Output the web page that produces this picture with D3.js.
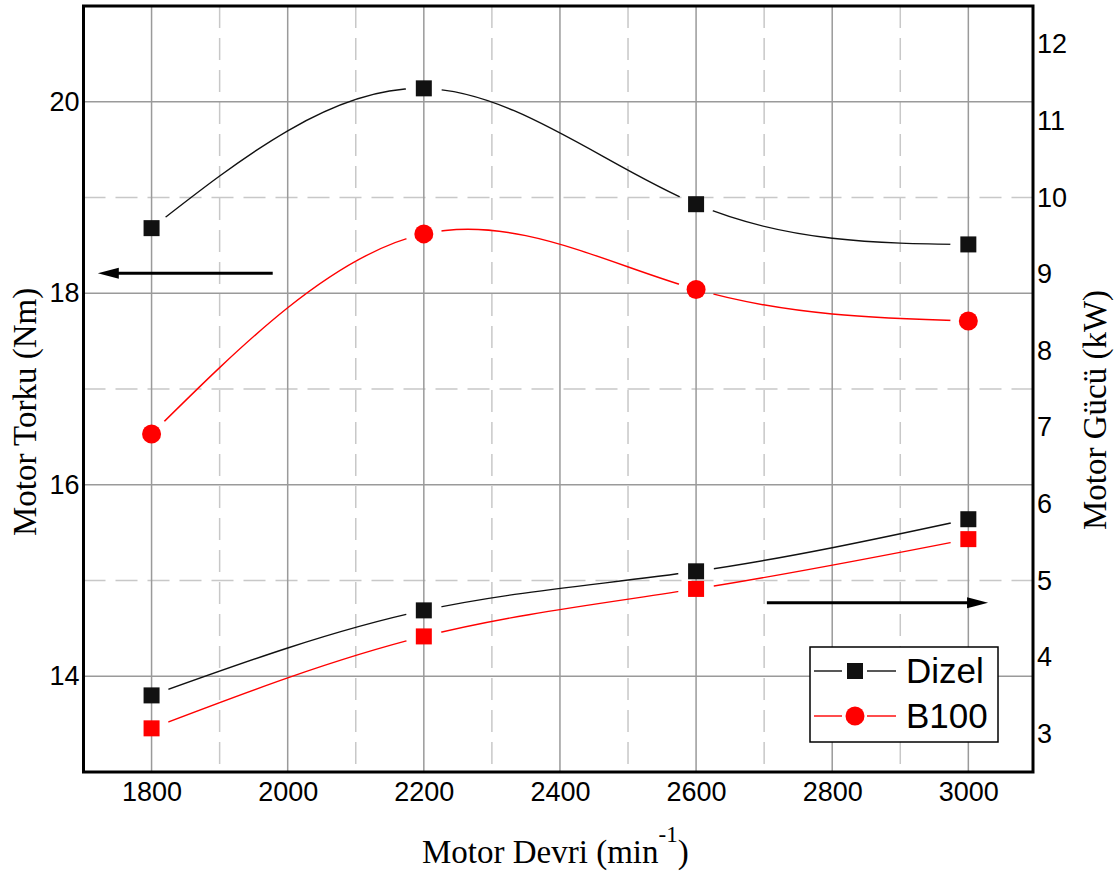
<!DOCTYPE html>
<html>
<head>
<meta charset="utf-8">
<script src="https://cdn.jsdelivr.net/npm/d3@7"></script>
<style>
    body { margin: 0; background: #fff; }
    .tick-lbl { font-family: "Liberation Sans", Arial, sans-serif; font-size: 27px; fill: #000; }
    .title { font-family: "Liberation Serif", "Times New Roman", serif; font-size: 33px; fill: #000; }
    .legend-text { font-family: "Liberation Sans", Arial, sans-serif; font-size: 35px; fill: #000; }
</style>
</head>
<body>
<svg id="chart" width="1116" height="872"></svg>
<script>
// ---- Data ----
const rpm = [1800, 2200, 2600, 3000];
const torqueDizel = [18.68, 20.14, 18.93, 18.51];
const torqueB100 = [16.53, 18.62, 18.04, 17.71];
const powerDizel = [3.50, 4.61, 5.12, 5.80];
const powerB100 = [3.07, 4.27, 4.89, 5.54];

const xTicks = [1800, 2000, 2200, 2400, 2600, 2800, 3000];
const xMinorTicks = [1900, 2100, 2300, 2500, 2700, 2900];
const torqueTicks = [14, 16, 18, 20];
const torqueMinorTicks = [15, 17, 19];
const powerTicks = [3, 4, 5, 6, 7, 8, 9, 10, 11, 12];

const seriesNames = ["Dizel", "B100"];
const seriesColors = ["#111111", "#ff0000"];

// arrows pointing to the axis each curve group belongs to
const arrowAxis = ["torque", "power"];
const arrowLevel = [18.21, 4.71];
const arrowFrom = [1978, 2704];
const arrowTo = [1721, 3029];

// ---- Layout ----
const plotLeft = 83.5, plotRight = 1033, plotTop = 6, plotBottom = 772;

const svg = d3.select("#chart");

const xScale = d3.scaleLinear().domain([1700, 3095]).range([plotLeft, plotRight]);
const yTorque = d3.scaleLinear().domain([13, 21]).range([plotBottom, plotTop]);
const yPower = d3.scaleLinear().domain([2.5, 12.5]).range([plotBottom, plotTop]);

// ---- Grid ----
const grid = svg.append("g");

grid.selectAll(".vminor").data(xMinorTicks).join("line")
    .attr("x1", d => xScale(d)).attr("x2", d => xScale(d))
    .attr("y1", plotTop).attr("y2", plotBottom)
    .attr("stroke", "#c8c8c8").attr("stroke-width", 1.5)
    .attr("stroke-dasharray", "22,10");

grid.selectAll(".hminor").data(torqueMinorTicks).join("line")
    .attr("x1", plotLeft).attr("x2", plotRight)
    .attr("y1", d => yTorque(d)).attr("y2", d => yTorque(d))
    .attr("stroke", "#c8c8c8").attr("stroke-width", 1.5)
    .attr("stroke-dasharray", "22,10");

grid.selectAll(".vmajor").data(xTicks).join("line")
    .attr("x1", d => xScale(d)).attr("x2", d => xScale(d))
    .attr("y1", plotTop).attr("y2", plotBottom)
    .attr("stroke", "#9a9a9a").attr("stroke-width", 1.5);

grid.selectAll(".hmajor").data(torqueTicks).join("line")
    .attr("x1", plotLeft).attr("x2", plotRight)
    .attr("y1", d => yTorque(d)).attr("y2", d => yTorque(d))
    .attr("stroke", "#9a9a9a").attr("stroke-width", 1.5);

// ---- Curves ----
const series = [
    { id: "tD", xs: rpm, ys: torqueDizel, scale: yTorque, color: seriesColors[0], shape: "square" },
    { id: "tB", xs: rpm, ys: torqueB100, scale: yTorque, color: seriesColors[1], shape: "circle" },
    { id: "pD", xs: rpm, ys: powerDizel, scale: yPower, color: seriesColors[0], shape: "square" },
    { id: "pB", xs: rpm, ys: powerB100, scale: yPower, color: seriesColors[1], shape: "square" }
];

const defs = svg.append("defs");

series.forEach(s => {
    const pts = s.xs.map((x, i) => [xScale(x), s.scale(s.ys[i])]);

    // gap around each marker, like the original plot
    const mask = defs.append("mask").attr("id", "m-" + s.id)
        .attr("maskUnits", "userSpaceOnUse")
        .attr("x", 0).attr("y", 0).attr("width", 1116).attr("height", 872);
    mask.append("rect").attr("width", 1116).attr("height", 872).attr("fill", "#fff");
    mask.selectAll("circle").data(pts).join("circle")
        .attr("cx", d => d[0]).attr("cy", d => d[1]).attr("r", 18).attr("fill", "#000");

    const line = d3.line().curve(d3.curveNatural);
    svg.append("path")
        .attr("d", line(pts))
        .attr("fill", "none")
        .attr("stroke", s.color)
        .attr("stroke-width", 1.4)
        .attr("mask", "url(#m-" + s.id + ")");

    if (s.shape === "square") {
        svg.append("g").selectAll("rect").data(pts).join("rect")
            .attr("x", d => d[0] - 8).attr("y", d => d[1] - 8)
            .attr("width", 16).attr("height", 16)
            .attr("fill", s.color);
    } else {
        svg.append("g").selectAll("circle").data(pts).join("circle")
            .attr("cx", d => d[0]).attr("cy", d => d[1]).attr("r", 9.5)
            .attr("fill", s.color);
    }
});

// ---- Arrows ----
arrowAxis.forEach((ax, i) => {
    const sc = ax === "torque" ? yTorque : yPower;
    const y = sc(arrowLevel[i]);
    const x0 = xScale(arrowFrom[i]);
    const x1 = xScale(arrowTo[i]);
    const dir = Math.sign(x1 - x0);
    svg.append("line")
        .attr("x1", x0).attr("x2", x1 - dir * 14)
        .attr("y1", y).attr("y2", y)
        .attr("stroke", "#000").attr("stroke-width", 3);
    svg.append("path")
        .attr("d", `M${x1},${y} L${x1 - dir * 21},${y - 5.5} L${x1 - dir * 21},${y + 5.5} Z`)
        .attr("fill", "#000");
});

// ---- Frame ----
svg.append("rect")
    .attr("x", plotLeft).attr("y", plotTop)
    .attr("width", plotRight - plotLeft).attr("height", plotBottom - plotTop)
    .attr("fill", "none").attr("stroke", "#000").attr("stroke-width", 3);

// ---- Axes (labels only) ----
const xAxis = svg.append("g")
    .attr("transform", `translate(0,${plotBottom})`)
    .call(d3.axisBottom(xScale).tickValues(xTicks).tickSize(0).tickPadding(10).tickFormat(d3.format("d")));
xAxis.select(".domain").remove();

const yAxisL = svg.append("g")
    .attr("transform", `translate(${plotLeft},0)`)
    .call(d3.axisLeft(yTorque).tickValues(torqueTicks).tickSize(0).tickPadding(4));
yAxisL.select(".domain").remove();

const yAxisR = svg.append("g")
    .attr("transform", `translate(${plotRight},0)`)
    .call(d3.axisRight(yPower).tickValues(powerTicks).tickSize(0).tickPadding(4));
yAxisR.select(".domain").remove();

svg.selectAll(".tick text").attr("class", "tick-lbl");
svg.selectAll(".tick line").remove();
[xAxis, yAxisL, yAxisR].forEach(a => a.attr("font-size", null).attr("font-family", null));

// ---- Titles ----
const xTitle = svg.append("text").attr("class", "title")
    .attr("x", 422).attr("y", 863);
xTitle.append("tspan").text("Motor Devri (min");
xTitle.append("tspan").attr("dy", -21).attr("font-size", 23).text("-1");
xTitle.append("tspan").attr("dy", 21).text(")");

svg.append("text").attr("class", "title")
    .attr("transform", "translate(36,412) rotate(-90)")
    .attr("text-anchor", "middle")
    .text("Motor Torku (Nm)");

svg.append("text").attr("class", "title")
    .attr("transform", "translate(1106,410) rotate(-90)")
    .attr("text-anchor", "middle")
    .text("Motor Gücü (kW)");

// ---- Legend ----
const legend = svg.append("g");
legend.append("rect")
    .attr("x", 810).attr("y", 647).attr("width", 188).attr("height", 95)
    .attr("fill", "#fff").attr("stroke", "#000").attr("stroke-width", 1.5);

seriesNames.forEach((name, i) => {
    const cy = 671 + i * 45;
    const col = seriesColors[i];
    legend.append("line").attr("x1", 814).attr("x2", 842).attr("y1", cy).attr("y2", cy)
        .attr("stroke", col).attr("stroke-width", 1.4);
    legend.append("line").attr("x1", 867).attr("x2", 896).attr("y1", cy).attr("y2", cy)
        .attr("stroke", col).attr("stroke-width", 1.4);
    if (i === 0) {
        legend.append("rect").attr("x", 847).attr("y", cy - 8).attr("width", 16).attr("height", 16)
            .attr("fill", col);
    } else {
        legend.append("circle").attr("cx", 855).attr("cy", cy).attr("r", 9.5).attr("fill", col);
    }
    legend.append("text").attr("class", "legend-text")
        .attr("x", 906).attr("y", cy + 12)
        .text(name);
});
</script>
</body>
</html>
